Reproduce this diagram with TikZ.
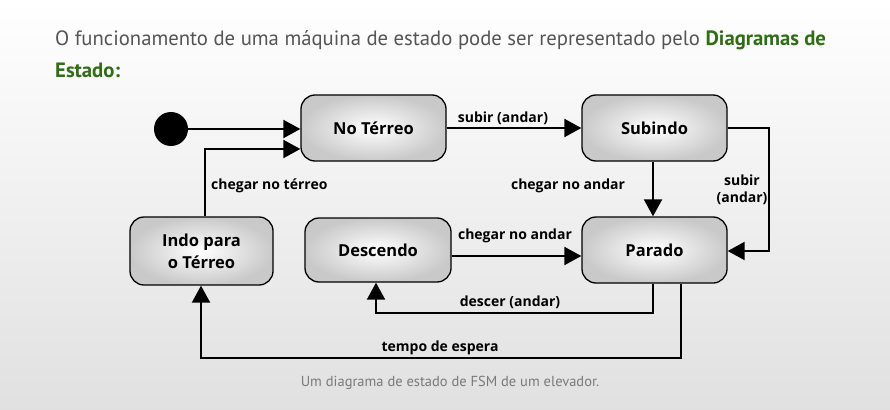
\documentclass[tikz,border=0pt]{standalone}
\usepackage{fontspec}
\setmainfont{Open Sans}
\newfontfamily\hfont{PT Sans}
\usetikzlibrary{arrows.meta,positioning}
\definecolor{hgray}{HTML}{555555}
\definecolor{hgreen}{HTML}{2F6E12}
\definecolor{capgray}{HTML}{7A7A7A}
\tikzset{
  st/.style={draw=black, line width=1.3pt, rounded corners=14pt, inner color=white, outer color=black!21,
    minimum width=145pt, minimum height=66pt, align=center, font=\fontsize{16.5}{20}\selectfont\bfseries},
  tr/.style={line width=2pt, -{Triangle[length=17pt,width=18pt]}},
  lbl/.style={font=\fontsize{14}{17}\selectfont\bfseries, align=center, inner sep=0pt}
}
\begin{document}
\begin{tikzpicture}[x=1pt,y=-1pt]
\shade[top color=white, bottom color=black!12] (0,0) rectangle (890,409);
\useasboundingbox (0,0) rectangle (890,409);
% header
\node[anchor=west, inner sep=0pt, font=\hfont\fontsize{20.7}{24}\selectfont, text=hgray] (h1) at (55,40)
  {O funcionamento de uma máquina de estado pode ser representado pelo \textcolor{hgreen}{\bfseries Diagramas de}};
\node[anchor=west, inner sep=0pt, font=\hfont\fontsize{20.7}{24}\selectfont\bfseries, text=hgreen] (h2) at (55,70) {Estado:};
% nodes
\node[circle, fill=black, minimum size=34pt, inner sep=0pt] (init) at (171,129) {};
\node[st] (nt) at (373.5,128) {No Térreo};
\node[st] (sub) at (654.5,128) {Subindo};
\node[st, minimum width=143pt, minimum height=68pt, font=\fontsize{16.5}{22}\selectfont\bfseries] (indo) at (201.5,251) {Indo para\\o Térreo};
\node[st, minimum width=146pt, minimum height=64pt] (desc) at (378,250) {Descendo};
\node[st] (par) at (654.5,250) {Parado};
\coordinate (c1) at (205,149);
\coordinate (c2) at (769,128);
\coordinate (c3) at (769,251);
\coordinate (c4) at (653,313);
\coordinate (c5) at (376,313);
\coordinate (c6) at (681,358);
\coordinate (c7) at (201,358);
% edges
\draw[tr] (init.east) -- (nt.west |- init.east);
\draw[tr] (indo.north -| c1) -- (c1) -- (nt.west |- c1);
\draw[tr] (nt.east) -- (sub.west);
\draw[tr] (sub.south -| 653,0) -- (par.north -| 653,0);
\draw[tr] (sub.east |- c2) -- (c2) -- (c3) -- (par.east |- c3);
\draw[tr] (desc.east |- 0,256) -- (par.west |- 0,256);
\draw[tr] (par.south -| c4) -- (c4) -- (c5) -- (desc.south -| c5);
\draw[tr] (par.south -| c6) -- (c6) -- (c7) -- (indo.south -| c7);
% labels
\node[lbl, anchor=west] (l1) at (211,186) {chegar no térreo};
\node[lbl] (l2) at (503,118) {subir (andar)};
\node[lbl] (l3) at (568,186) {chegar no andar};
\node[lbl] (l4) at (742,190) {subir\\(andar)};
\node[lbl] (l5) at (515,236) {chegar no andar};
\node[lbl] (l6) at (510,302) {descer (andar)};
\node[lbl] (l7) at (440,348) {tempo de espera};
\node[font=\hfont\fontsize{14.5}{17}\selectfont, text=capgray, inner sep=0pt] (cap) at (450,383) {Um diagrama de estado de FSM de um elevador.};
\end{tikzpicture}
\end{document}
